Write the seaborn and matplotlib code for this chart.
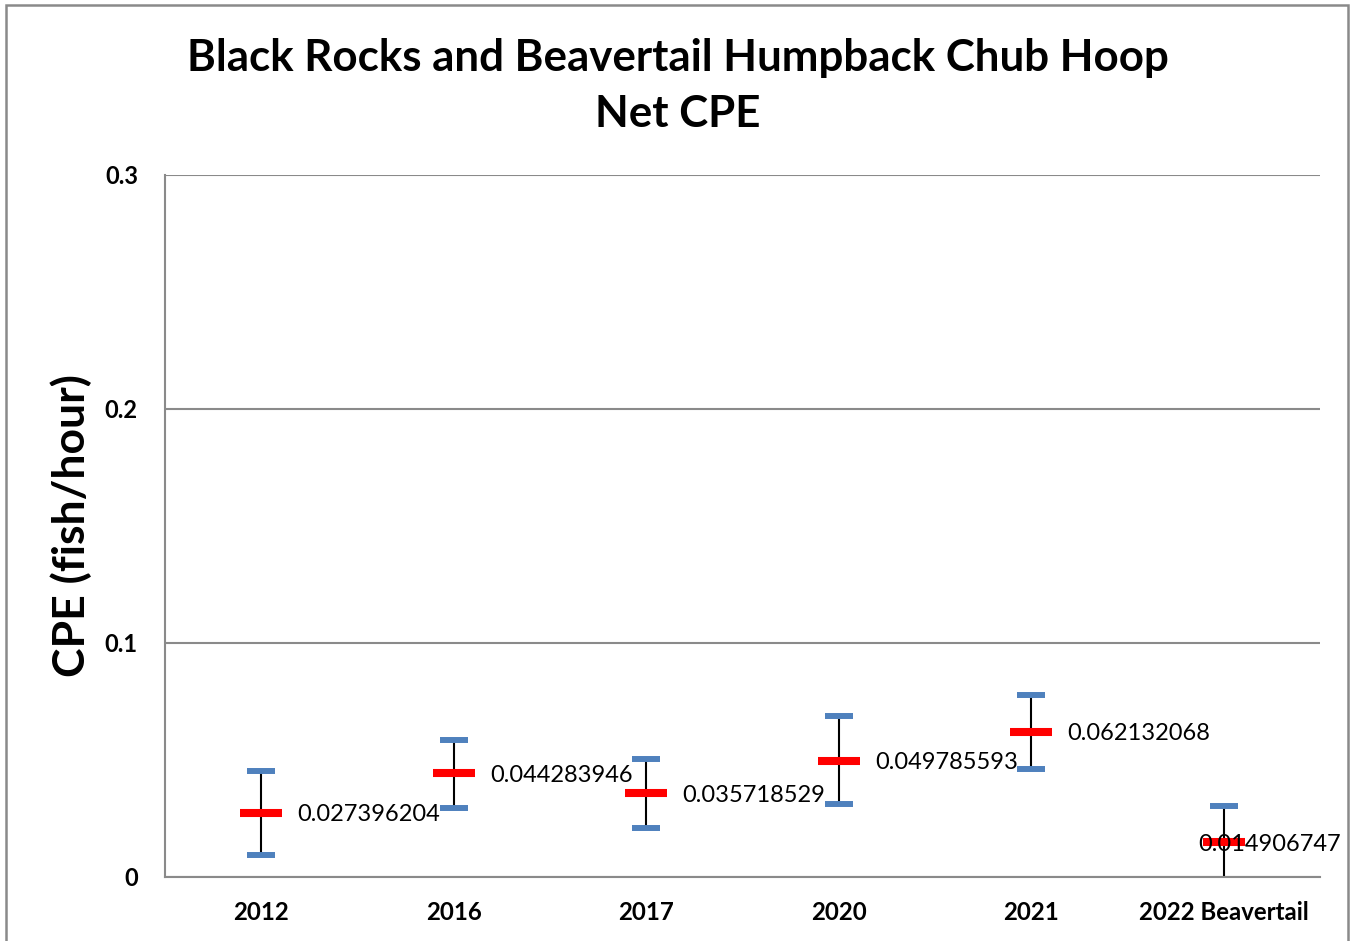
import matplotlib
matplotlib.use("Agg")
import matplotlib.pyplot as plt
import seaborn as sns
import pandas as pd
from matplotlib.patches import Rectangle

# Hoop net catch per unit effort (fish/hour) with confidence limits
categories = ["2012", "2016", "2017", "2020", "2021", "2022 Beavertail"]
cpe_mean = [0.027396204, 0.044283946, 0.035718529, 0.049785593, 0.062132068, 0.014906747]
cpe_high = [0.0453, 0.0585, 0.0504, 0.0688, 0.0779, 0.0303]
cpe_low = [0.0095, 0.0294, 0.0209, 0.0312, 0.0463, -0.0020]
y_ticks = [0, 0.1, 0.2, 0.3]
y_tick_labels = ["0", "0.1", "0.2", "0.3"]

df = pd.DataFrame({"year": categories, "mean": cpe_mean,
                   "high": cpe_high, "low": cpe_low})

sns.set_theme(style="white")
plt.rcParams["font.family"] = ["Lato", "DejaVu Sans"]
plt.rcParams["text.color"] = "black"
plt.rcParams["xtick.color"] = "black"
plt.rcParams["ytick.color"] = "black"
plt.rcParams["axes.labelcolor"] = "black"

W, H = 1352, 941
fig = plt.figure(figsize=(W / 100, H / 100), dpi=100)
fig.patch.set_facecolor("white")
ax = fig.add_axes([165 / W, 1 - 877 / H, (1320 - 165) / W, (877 - 175) / H])

# outer chart frame
fig.add_artist(Rectangle((6 / W, -0.01), (1348 - 6) / W, 1 - 5 / H + 0.01,
                         transform=fig.transFigure, fill=False,
                         edgecolor="#8a8a8a", linewidth=1.8, zorder=0))

# high-low range lines
pos = list(range(len(categories)))
ax.vlines(pos, df["low"], df["high"], color="black", linewidth=1.5, zorder=2)

# high / low caps
long_df = pd.concat([
    pd.DataFrame({"year": categories, "value": cpe_high}),
    pd.DataFrame({"year": categories, "value": cpe_low}),
])
sns.scatterplot(data=long_df, x="year", y="value", marker="_", s=20.5 ** 2,
                color="#4f81bd", linewidth=4.3, ax=ax, zorder=3, legend=False)
# mean markers
sns.scatterplot(data=df, x="year", y="mean", marker="_", s=30.5 ** 2,
                color="#ff0000", linewidth=5.8, ax=ax, zorder=4, legend=False)

# value labels
for i, v in enumerate(cpe_mean):
    if i == len(cpe_mean) - 1:
        ax.annotate(f"{v:.9f}", (i, v), xytext=(84, 0), textcoords="offset points",
                    ha="right", va="center_baseline", fontsize=17, color="black", zorder=5)
    else:
        ax.annotate(f"{v:.9f}", (i, v), xytext=(26, 0), textcoords="offset points",
                    ha="left", va="center_baseline", fontsize=17, color="black", zorder=5)

ax.set_xlim(-0.5, len(categories) - 0.5)
ax.set_ylim(0, 0.3)
ax.set_yticks(y_ticks)
ax.set_yticklabels(y_tick_labels, fontsize=17, fontweight="bold")
ax.set_xticks(pos)
ax.set_xticklabels(categories, fontsize=17.3, fontweight="bold")
ax.tick_params(axis="y", length=0, pad=19.5)
ax.tick_params(axis="x", length=0, pad=17)
ax.set_xlabel("")
ax.set_ylabel("CPE (fish/hour)", fontsize=32, fontweight="bold")
ax.yaxis.set_label_coords(-0.0632, 0.5)

ax.grid(axis="y", color="#8a8a8a", linewidth=1.5)
ax.grid(axis="x", visible=False)
for side in ["top", "right"]:
    ax.spines[side].set_visible(False)
for side in ["left", "bottom"]:
    ax.spines[side].set_color("#8a8a8a")
    ax.spines[side].set_linewidth(1.5)
ax.set_axisbelow(True)

fig.text(678 / W, 1 - 86 / H,
         "Black Rocks and Beavertail Humpback Chub Hoop\nNet CPE",
         ha="center", va="center", fontsize=31.6, fontweight="bold",
         linespacing=1.5)

fig.savefig("out.png", dpi=100)
